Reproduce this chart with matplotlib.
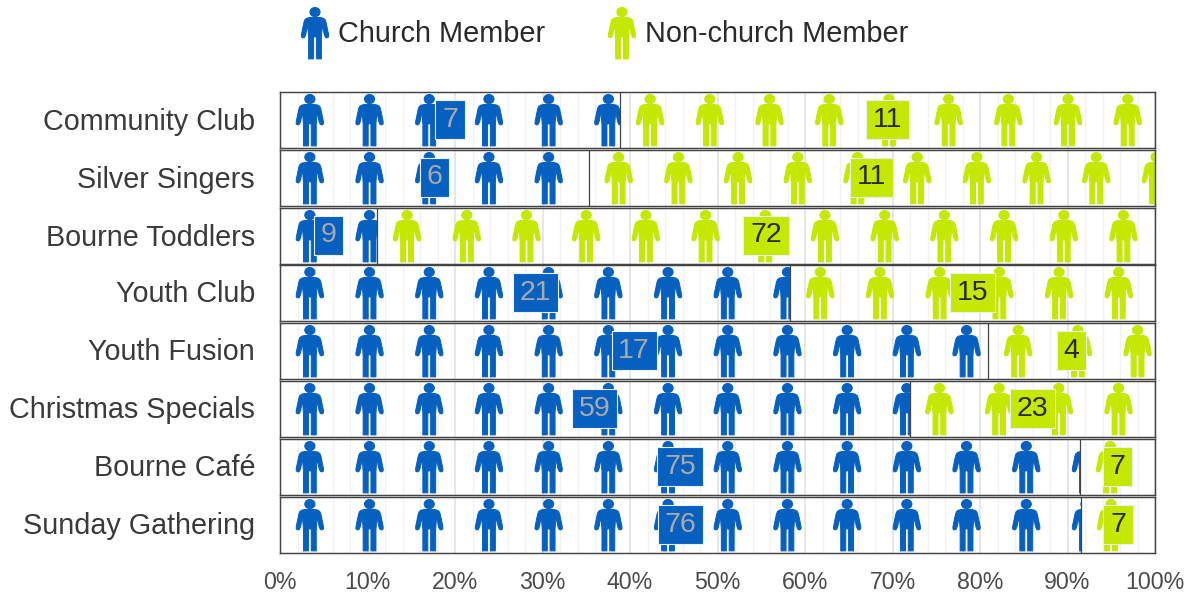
import numpy as np
import matplotlib
matplotlib.use("Agg")
import matplotlib.pyplot as plt
from matplotlib.path import Path
from matplotlib.patches import PathPatch, Rectangle
from matplotlib.transforms import Affine2D

plt.rcParams['font.family'] = ['Liberation Sans', 'DejaVu Sans']

groups = ['Community Club', 'Silver Singers', 'Bourne Toddlers', 'Youth Club',
          'Youth Fusion', 'Christmas Specials', 'Bourne Café', 'Sunday Gathering']
church = np.array([7, 6, 9, 21, 17, 59, 75, 76])
non_church = np.array([11, 11, 72, 15, 4, 23, 7, 7])
legend_names = ['Church Member', 'Non-church Member']

BLUE = '#0560C0'
GREEN = '#C5E800'
W, H = 1195, 593
X0, X1 = 280, 1155
row_tops = [92, 150, 208, 265, 323, 381, 439, 497]
ROW_H = 56
STEP = 59.7 / (X1 - X0)  # icon spacing, axis fraction


def person_path():
    """Person glyph in pixels, centred on x=0, y runs down from 0 to 52."""
    half = [(0, 10), (-5, 10), (-8, 10.6), (-10, 12), (-11, 14.5), (-13.6, 27), (-13.6, 29.5),
            (-12, 30.5), (-10.4, 29.8), (-9.2, 27), (-7.6, 18.5), (-7.2, 19), (-6.4, 30),
            (-6.4, 51.4), (-1.4, 51.4), (-1.4, 30), (0, 29)]
    pts = half + [(-x, y) for x, y in reversed(half[:-1])]
    codes = [Path.MOVETO] + [Path.LINETO] * (len(pts) - 2) + [Path.CLOSEPOLY]
    body = Path(pts, codes)
    head = Path.unit_circle().transformed(Affine2D().scale(5.1, 4.6).translate(0, 4.6))
    return Path.make_compound_path(body, head)


PERSON = person_path()

fig = plt.figure(figsize=(W / 100, H / 100), dpi=100)
axes = []
for i, top in enumerate(row_tops):
    ax = fig.add_axes([X0 / W, 1 - (top + ROW_H) / H, (X1 - X0) / W, ROW_H / H])
    axes.append(ax)
    ax.set_xlim(0, 1)
    ax.set_ylim(ROW_H, 0)
    ax.set_yticks([ROW_H / 2 - 1.5])
    ax.set_yticklabels([groups[i]], fontsize=20.7, color='#3a3a3a')
    ax.tick_params(axis='y', length=0, pad=18)
    ax.set_xticks(np.arange(0, 1.01, 0.1))
    ax.set_xticks(np.arange(0, 1.001, 0.02), minor=True)
    ax.grid(True, which='major', axis='x', color='#e0e0e0', lw=1.1, zorder=0)
    ax.grid(True, which='minor', axis='x', color='#f2f2f2', lw=1.0, zorder=0)
    ax.tick_params(axis='x', which='both', length=0)
    ax.set_axisbelow(True)
    for s in ax.spines.values():
        s.set_color('#444444')
        s.set_linewidth(1.05)

    total = church[i] + non_church[i]
    split = church[i] / total
    segments = [(0, split, BLUE, '#aaaaaa', church[i]), (split, 1, GREEN, '#2a2a2a', non_church[i])]
    for start, end, col, txt_col, val in segments:
        clip = Rectangle((start, 0), end - start, ROW_H, transform=ax.transData)
        n = int(np.ceil((end - start) / STEP))
        for k in range(n):
            cx = start + (k + 0.5) * STEP
            tr = Affine2D().scale(1 / (X1 - X0), 1).translate(cx, 2.5) + ax.transData
            p = PathPatch(PERSON, transform=tr, fc=col, ec=col, lw=0.7, joinstyle='round', zorder=2)
            ax.add_patch(p)
            p.set_clip_path(clip)
        ax.text((start + end) / 2, ROW_H / 2 - 0.5, str(val), ha='center', va='center',
                fontsize=20.5, color=txt_col, zorder=5,
                bbox=dict(boxstyle='square,pad=0.24', fc=col, ec='#e8f0f8', lw=0.8))
    ax.axvline(split, color='#444444', lw=0.9, zorder=3)

    if i < len(row_tops) - 1:
        ax.tick_params(axis='x', which='both', labelbottom=False)
    else:
        ax.set_xticklabels([f'{v}%' for v in range(0, 101, 10)], fontsize=16.7, color='#4a4a4a')
        ax.tick_params(axis='x', which='major', pad=13)

# legend drawn in a pixel-space overlay
over = fig.add_axes([0, 0, 1, 1], facecolor='none')
over.set_xlim(0, W)
over.set_ylim(H, 0)
over.axis('off')
for name, col, ix, tx in zip(legend_names, [BLUE, GREEN], [315, 622], [338, 645]):
    over.add_patch(PathPatch(PERSON, transform=Affine2D().translate(ix, 7.5) + over.transData,
                             fc=col, ec=col, lw=0.7, joinstyle='round'))
    over.text(tx, 34.5, name, fontsize=20.8, color='#2a2a2a', va='center', ha='left')

fig.savefig('out.png', dpi=100)
